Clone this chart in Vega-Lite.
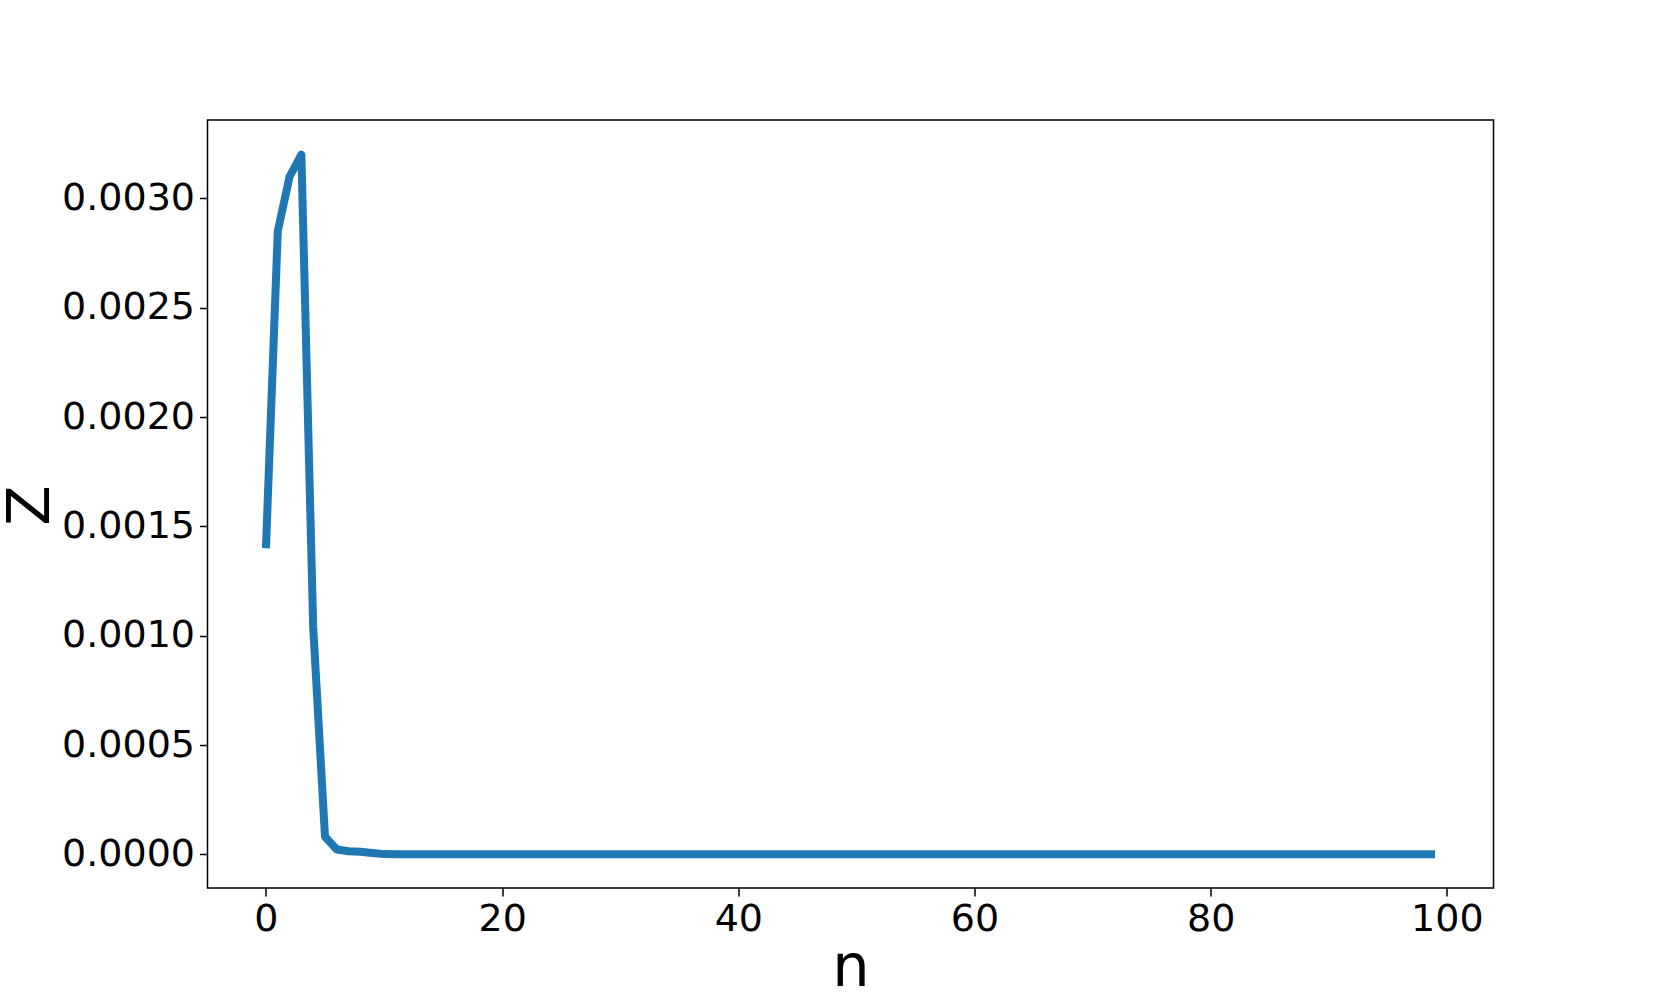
{
  "$schema": "https://vega.github.io/schema/vega-lite/v6.json",
  "width": 1286,
  "height": 768,
  "autosize": {"type": "none"},
  "padding": {"left": 207.5, "top": 120, "right": 166.5, "bottom": 111},
  "background": "white",
  "config": {
    "view": {"stroke": "black", "strokeWidth": 1.5},
    "font": "DejaVu Sans"
  },
  "data": {
    "values": [
      {"n": 0, "Z": 0.0014},
      {"n": 1, "Z": 0.00285},
      {"n": 2, "Z": 0.0031},
      {"n": 3, "Z": 0.0032},
      {"n": 4, "Z": 0.00104},
      {"n": 5, "Z": 0.00008},
      {"n": 6, "Z": 0.000022},
      {"n": 7, "Z": 0.000014},
      {"n": 8, "Z": 0.000012},
      {"n": 9, "Z": 0.000006},
      {"n": 10, "Z": 0.000001},
      {"n": 11, "Z": 0},
      {"n": 20, "Z": 0},
      {"n": 40, "Z": 0},
      {"n": 60, "Z": 0},
      {"n": 80, "Z": 0},
      {"n": 99, "Z": 0}
    ]
  },
  "mark": {"type": "line", "color": "#1f77b4", "strokeWidth": 8, "strokeCap": "butt", "strokeJoin": "round", "clip": true},
  "encoding": {
    "x": {
      "field": "n", "type": "quantitative",
      "scale": {"domain": [-4.95, 103.95], "nice": false, "zero": false},
      "axis": {
        "values": [0, 20, 40, 60, 80, 100],
        "grid": false, "domain": false,
        "tickColor": "black", "tickSize": 8, "tickWidth": 1.5,
        "labelFont": "DejaVu Sans", "labelFontSize": 38, "labelColor": "black", "labelPadding": 4,
        "labelFlush": false,
        "title": "n", "titleFont": "DejaVu Sans", "titleFontSize": 59, "titleFontWeight": "normal", "titleColor": "black",
        "titleX": 643, "titleY": 97, "titleBaseline": "alphabetic", "titleAlign": "center"
      }
    },
    "y": {
      "field": "Z", "type": "quantitative",
      "scale": {"domain": [-0.000154, 0.003359], "nice": false, "zero": false},
      "axis": {
        "values": [0, 0.0005, 0.001, 0.0015, 0.002, 0.0025, 0.003],
        "format": ".4f",
        "grid": false, "domain": false,
        "tickColor": "black", "tickSize": 8, "tickWidth": 1.5,
        "labelFont": "DejaVu Sans", "labelFontSize": 38, "labelColor": "black", "labelPadding": 5,
        "labelFlush": false,
        "title": "Z", "titleFont": "DejaVu Sans", "titleFontSize": 59, "titleFontWeight": "normal", "titleColor": "black",
        "titleAngle": -90, "titleX": -159, "titleY": 385, "titleBaseline": "alphabetic", "titleAlign": "center"
      }
    }
  }
}
